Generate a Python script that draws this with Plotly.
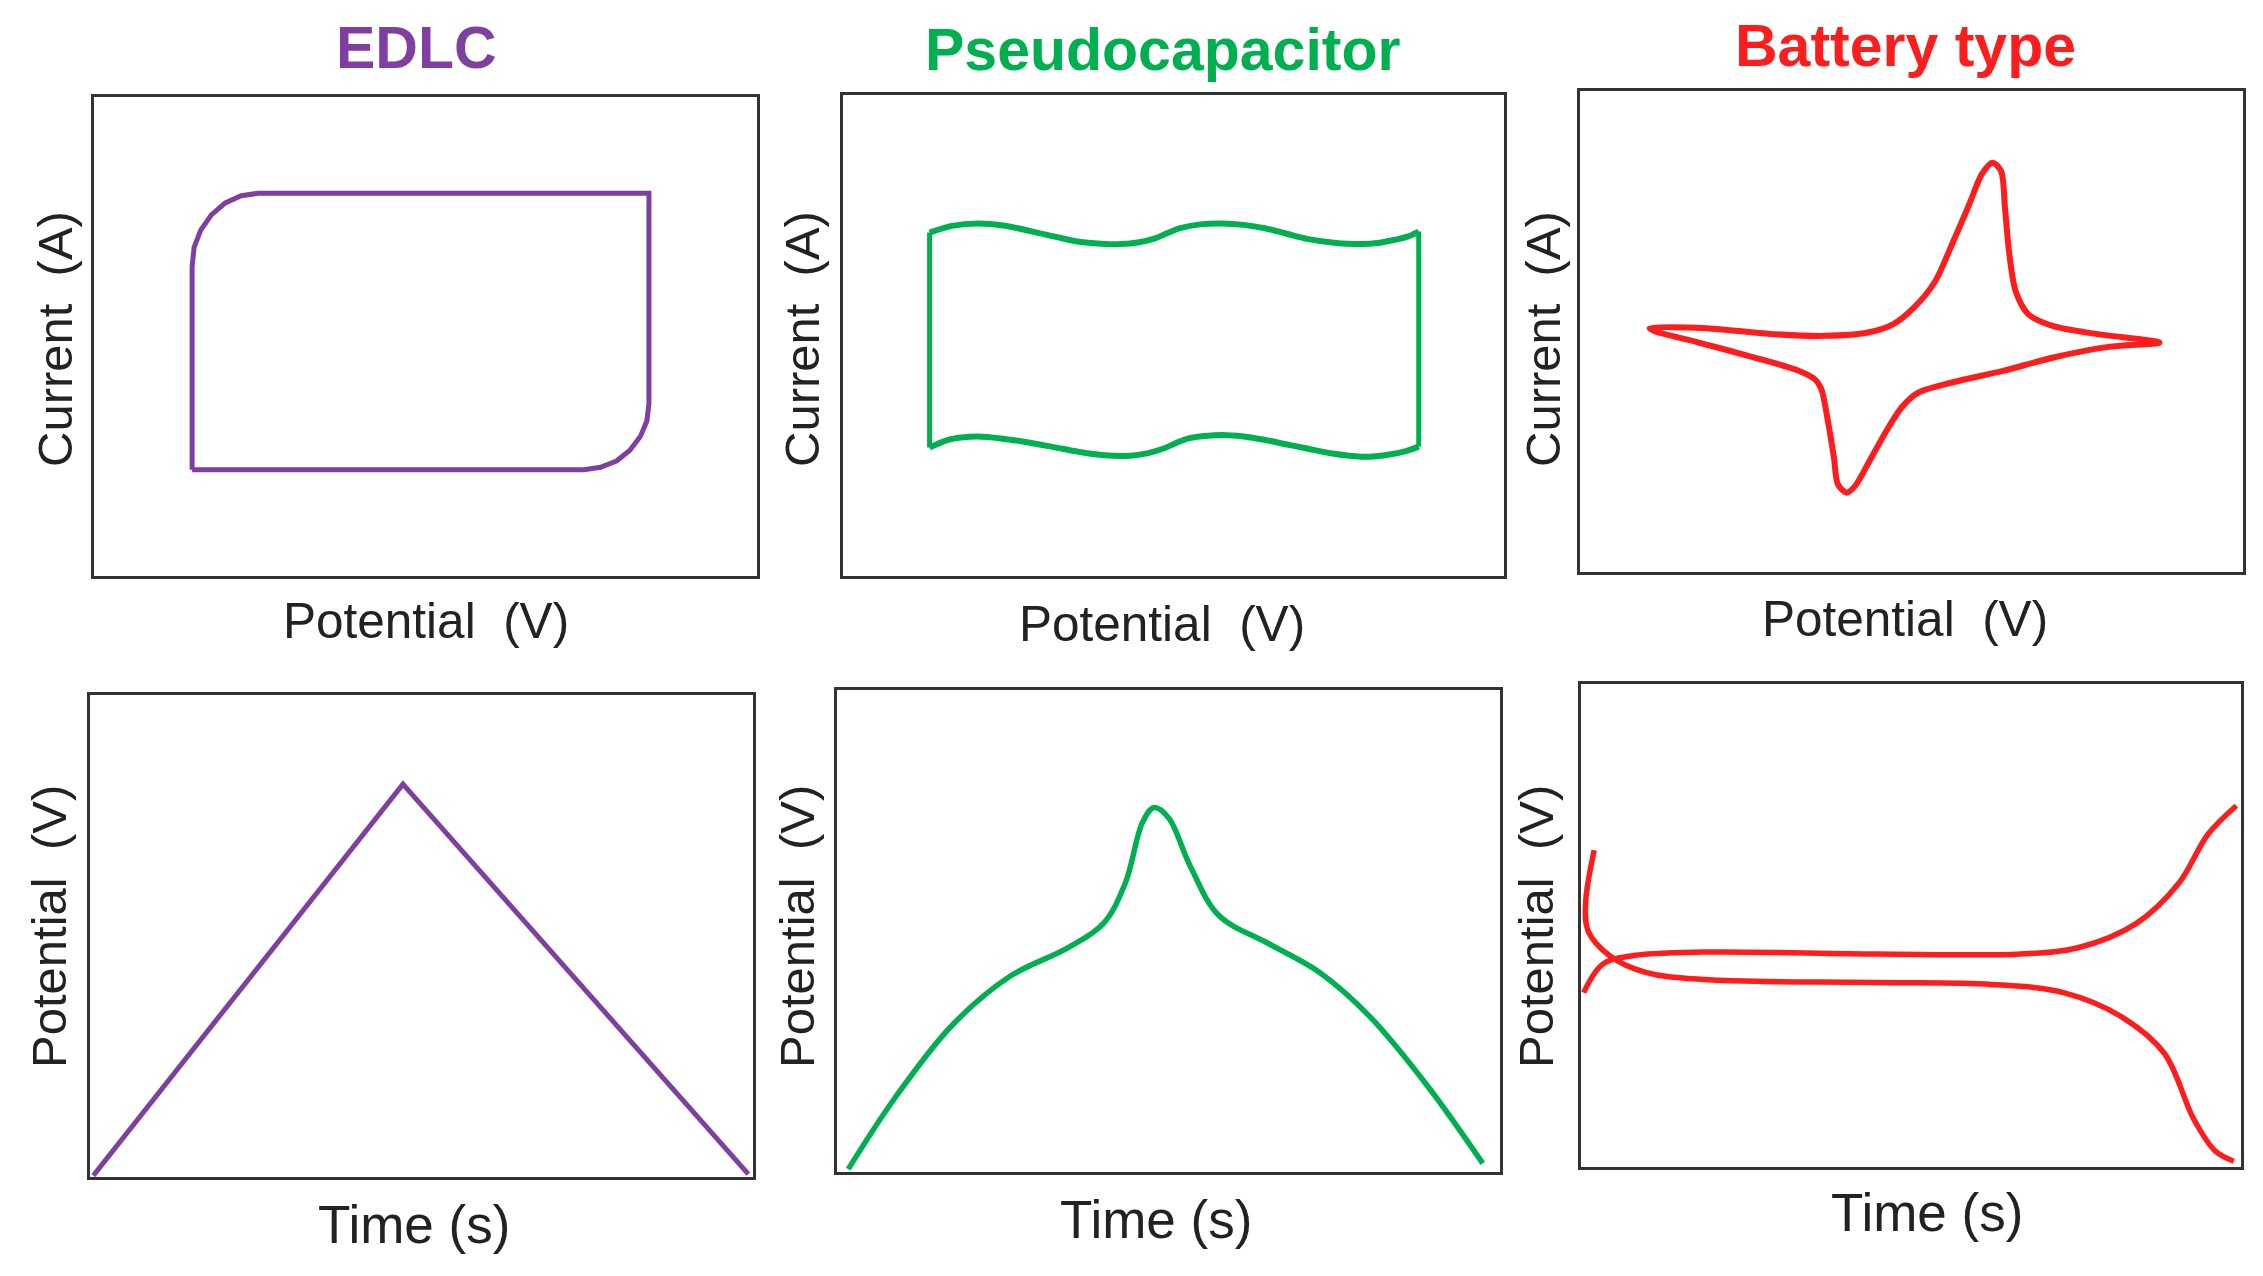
import plotly.graph_objects as go

W, H = 2263, 1276

# ---------------- data (percent of each panel box) ----------------
edlc_cv_x = [14.8, 14.8, 15.1, 16.1, 17.7, 19.8, 22.2, 24.8, 83.7, 83.7, 83.4, 82.4, 80.8, 78.8, 76.4, 73.9, 14.8]
edlc_cv_y = [22.2, 64.6, 68.6, 72.2, 75.4, 77.9, 79.4, 79.9, 79.9, 36.0, 32.4, 29.1, 26.2, 24.0, 22.7, 22.2, 22.2]

pseudo_top_x = [13.1, 16.5, 20.4, 24.5, 28.7, 32.2, 35.7, 39.0, 42.1, 44.8, 47.2, 49.1, 51.0, 54.0, 57.4,
                60.6, 63.8, 67.0, 70.2, 74.3, 78.4, 81.2, 83.5, 85.5, 87.1]
pseudo_top_y = [71.4, 72.8, 73.3, 72.8, 71.6, 70.5, 69.5, 69.1, 69.0, 69.4, 70.2, 71.3, 72.3, 73.1, 73.3,
                73.0, 72.3, 71.2, 70.1, 69.3, 69.0, 69.3, 69.9, 70.6, 71.6]
pseudo_bot_x = [87.1, 85.0, 82.9, 80.6, 78.4, 74.3, 70.2, 67.0, 63.8, 60.6, 57.4, 54.8, 52.3, 50.3, 48.5,
                46.0, 43.4, 39.5, 35.7, 31.5, 27.4, 23.9, 20.4, 17.9, 15.9, 13.1]
pseudo_bot_y = [26.9, 25.9, 25.3, 24.9, 24.8, 25.4, 26.5, 27.4, 28.3, 29.0, 29.3, 29.1, 28.6, 27.6, 26.5,
                25.5, 25.0, 25.1, 25.8, 26.9, 27.9, 28.6, 29.0, 28.8, 28.3, 26.7]

battery_cv_x = [28.7, 37.0, 43.4, 47.2, 50.4, 53.6, 56.1, 58.7, 60.6, 62.2, 63.5, 64.1, 64.7, 65.7, 67.6,
                71.4, 77.8, 87.4, 79.7, 71.4, 63.8, 56.1, 51.0, 48.5, 45.9, 43.4, 41.5, 40.2, 38.9,
                38.3, 37.3, 36.4, 35.4, 32.5, 25.5, 17.9, 11.2, 10.5, 19.1, 28.7]
battery_cv_y = [49.5, 49.1, 49.8, 51.5, 55.0, 60.5, 68.1, 76.4, 82.7, 85.1, 83.4, 75.7, 66.7, 58.4, 53.6,
                51.1, 49.5, 47.7, 46.8, 44.6, 41.8, 39.4, 37.3, 34.2, 28.6, 22.4, 17.9, 16.5, 18.2,
                23.8, 32.1, 38.0, 40.1, 42.1, 44.9, 47.7, 50.1, 50.7, 50.7, 49.5]

edlc_gcd_x = [0.5, 47.2, 99.3]
edlc_gcd_y = [0.3, 81.5, 0.6]

pseudo_gcd_x = [1.7, 8.7, 17.4, 26.1, 34.8, 40.2, 43.5, 46.1, 47.8, 50.0, 53.3, 57.6, 65.2, 72.8, 80.4, 89.1, 97.4]
pseudo_gcd_y = [0.6, 15.3, 30.5, 40.6, 46.5, 51.6, 60.0, 72.6, 75.6, 73.5, 63.4, 53.2, 47.3, 41.4, 32.2, 17.8, 1.8]

battery_chg_x = [0.4, 3.3, 7.6, 18.6, 44.8, 66.6, 75.3, 84.1, 90.6, 95.0, 99.3]
battery_chg_y = [36.1, 42.0, 43.7, 44.5, 44.1, 44.1, 45.4, 50.4, 58.8, 68.9, 74.8]
battery_dis_x = [2.0, 0.7, 1.1, 4.4, 9.8, 18.6, 44.8, 62.2, 73.1, 81.9, 88.4, 92.8, 96.1, 98.9]
battery_dis_y = [65.6, 54.6, 48.8, 43.7, 40.3, 38.8, 38.2, 37.8, 36.1, 31.1, 23.5, 10.0, 3.3, 1.2]

titles = ["EDLC", "Pseudocapacitor", "Battery type"]
cv_xlabel = "Potential\u00a0\u00a0(V)"
cv_ylabel = "Current\u00a0\u00a0(A)"
gcd_xlabel = "Time (s)"
gcd_ylabel = "Potential\u00a0\u00a0(V)"

# ---------------- styles ----------------
PURPLE = "#7E3FA0"
GREEN = "#00B050"
RED = "#FF1C1C"
FONT = "Arial, Liberation Sans, sans-serif"

# panel boxes in pixels: (x0, y0, x1, y1)
boxes = [
    (94, 97, 757, 576), (843, 95, 1504, 576), (1580, 91, 2243, 572),
    (90, 695, 753, 1177), (837, 690, 1500, 1172), (1581, 684, 2241, 1167),
]

fig = go.Figure()

def axname(i, a):
    return a if i == 0 else f"{a}{i+1}"

layout_axes = {}
for i, (x0, y0, x1, y1) in enumerate(boxes):
    common = dict(range=[0, 100], showline=True, mirror=True, linecolor="#333333", linewidth=3,
                  showticklabels=False, ticks="", showgrid=False, zeroline=False, fixedrange=True)
    layout_axes["xaxis" + ("" if i == 0 else str(i + 1))] = dict(
        domain=[x0 / W, x1 / W], anchor=axname(i, "y"), **common)
    layout_axes["yaxis" + ("" if i == 0 else str(i + 1))] = dict(
        domain=[1 - y1 / H, 1 - y0 / H], anchor=axname(i, "x"), **common)

def add(i, x, y, color, width, shape="linear", smoothing=1.0):
    fig.add_trace(go.Scatter(x=x, y=y, mode="lines", xaxis=axname(i, "x"), yaxis=axname(i, "y"),
                             line=dict(color=color, width=width, shape=shape,
                                       smoothing=smoothing if shape == "spline" else None),
                             showlegend=False, hoverinfo="skip"))

# EDLC CV
add(0, edlc_cv_x, edlc_cv_y, PURPLE, 5)
# Pseudocapacitor CV
add(1, pseudo_top_x, pseudo_top_y, GREEN, 6, "spline", 1.0)
add(1, pseudo_bot_x, pseudo_bot_y, GREEN, 6, "spline", 1.0)
add(1, [pseudo_top_x[-1], pseudo_bot_x[0]], [pseudo_top_y[-1], pseudo_bot_y[0]], GREEN, 5)
add(1, [pseudo_bot_x[-1], pseudo_top_x[0]], [pseudo_bot_y[-1], pseudo_top_y[0]], GREEN, 5)
# Battery CV
add(2, battery_cv_x, battery_cv_y, RED, 6, "spline", 0.8)
# GCD
add(3, edlc_gcd_x, edlc_gcd_y, PURPLE, 5)
add(4, pseudo_gcd_x, pseudo_gcd_y, GREEN, 5.5, "spline", 1.0)
add(5, battery_chg_x, battery_chg_y, RED, 5.5, "spline", 1.0)
add(5, battery_dis_x, battery_dis_y, RED, 5.5, "spline", 1.0)

annotations = []
def ann(text, px, py, size, color="#222222", bold=False, angle=0):
    annotations.append(dict(text=f"<b>{text}</b>" if bold else text, x=px / W, y=1 - py / H,
                            xref="paper", yref="paper", xanchor="center", yanchor="middle",
                            showarrow=False, textangle=angle,
                            font=dict(family=FONT, size=size, color=color)))

title_pos = [(416, 48), (1162, 50), (1905, 46)]
for t, (px, py), c in zip(titles, title_pos, [PURPLE, GREEN, RED]):
    ann(t, px, py, 59, c, bold=True)

for px, py in [(426, 620), (1162, 623), (1905, 618)]:
    ann(cv_xlabel, px, py, 49.5)
for px, py in [(55, 339), (802, 339), (1543, 339)]:
    ann(cv_ylabel, px, py, 49, angle=-90)
for px, py in [(414, 1224), (1156, 1219), (1927, 1212)]:
    ann(gcd_xlabel, px, py, 53)
for px, py in [(49, 927), (797, 927), (1536, 927)]:
    ann(gcd_ylabel, px, py, 49, angle=-90)

fig.update_layout(width=W, height=H, margin=dict(l=0, r=0, t=0, b=0),
                  paper_bgcolor="white", plot_bgcolor="white",
                  annotations=annotations, **layout_axes)

fig.write_html("out.html", config={"displayModeBar": False},
               post_script="document.body.style.margin='0';document.body.style.padding='0';")
